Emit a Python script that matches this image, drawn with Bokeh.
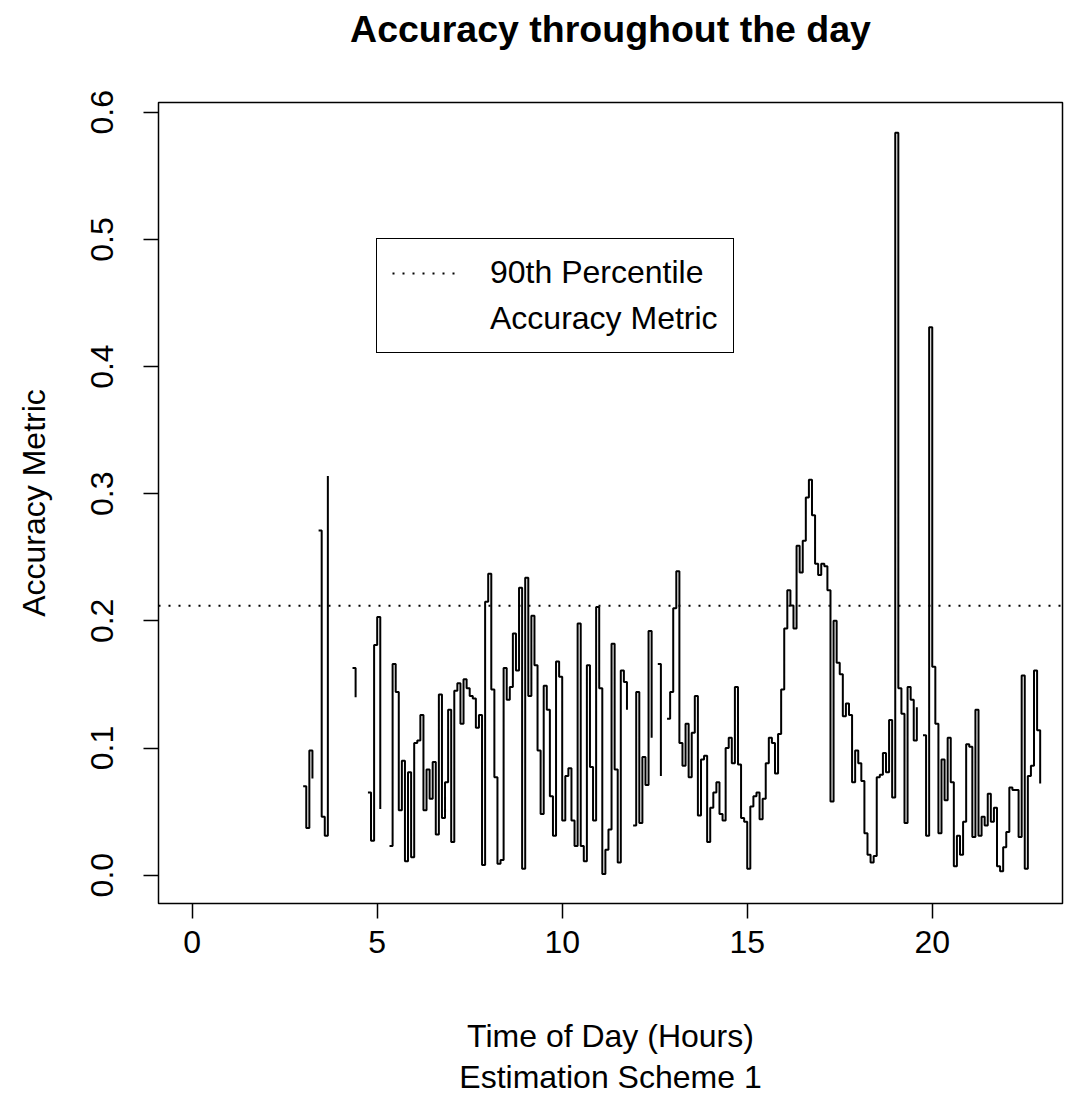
import math
from bokeh.plotting import figure
from bokeh.models import (Range1d, Legend, LegendItem, FixedTicker,
                          NumeralTickFormatter, Title)
from bokeh.embed import file_html
from bokeh.resources import INLINE

nan = float("nan")

# Accuracy metric sampled every 5 minutes from 03:00 (NaN = no estimate)
accuracy = [
    0.070, 0.037, 0.098, 0.076, nan,
    0.271, 0.046, 0.031, 0.314,
    nan, nan, nan, nan, nan, nan, nan,
    0.163, 0.140,
    nan, nan, nan,
    0.065, 0.027, 0.181, 0.203, 0.052,
    nan, nan,
    0.023, 0.166, 0.144, 0.051, 0.090, 0.011, 0.081, 0.014, 0.104, 0.106,
    0.126, 0.051, 0.083, 0.060, 0.089, 0.032, 0.142, 0.045, 0.073, 0.130,
    0.026, 0.145, 0.151, 0.119, 0.154, 0.147, 0.141, 0.139, 0.116, 0.126,
    0.008, 0.215, 0.237, 0.146, 0.077, 0.009, 0.012, 0.163, 0.138, 0.148,
    0.190, 0.161, 0.226, 0.005, 0.234, 0.141, 0.204, 0.165, 0.098, 0.048,
    0.149, 0.130, 0.062, 0.031, 0.168, 0.156, 0.043, 0.078, 0.084, 0.043,
    0.023, 0.198, 0.023, 0.011, 0.165, 0.085, 0.043, 0.211, 0.147, 0.001,
    0.020, 0.036, 0.182, 0.083, 0.010, 0.161, 0.152, 0.130,
    nan,
    0.039, 0.144, 0.041, 0.093, 0.071, 0.192, 0.108,
    nan,
    0.166, 0.078,
    nan,
    0.123, 0.144, 0.210, 0.239, 0.104, 0.086, 0.119, 0.077, 0.112, 0.141,
    0.047, 0.091, 0.094, 0.026, 0.053, 0.065, 0.073, 0.048, 0.043, 0.100,
    0.108, 0.088, 0.148, 0.087, 0.045, 0.042, 0.005, 0.054, 0.062, 0.065,
    0.044, 0.060, 0.088, 0.108, 0.104, 0.080, 0.111, 0.146, 0.194, 0.224,
    0.212, 0.194, 0.259, 0.238, 0.263, 0.297, 0.311, 0.283, 0.245, 0.236,
    0.245, 0.243, 0.224, 0.058, 0.200, 0.167, 0.158, 0.125, 0.135, 0.126,
    0.073, 0.098, 0.088, 0.074, 0.033, 0.016, 0.010, 0.015, 0.077, 0.079,
    0.096, 0.081, 0.122, 0.061, 0.584, 0.147, 0.127, 0.041, 0.148, 0.138,
    0.106, 0.132,
    nan,
    0.110, 0.031, 0.431, 0.164, 0.119, 0.033, 0.091, 0.059, 0.108, 0.073,
    0.007, 0.031, 0.016, 0.042, 0.103, 0.101, 0.030, 0.130, 0.031, 0.046,
    0.039, 0.064, 0.042, 0.053, 0.007, 0.003, 0.022, 0.034, 0.069, 0.067,
    0.067, 0.030, 0.157, 0.005, 0.078, 0.086, 0.161, 0.114, 0.072,
]
start_hour = 3.0
step_minutes = 5
hours = [start_hour + i * step_minutes / 60 for i in range(len(accuracy))]

percentile_90 = 0.2118
x_ticks = [0, 5, 10, 15, 20]
y_ticks = [0.0, 0.1, 0.2, 0.3, 0.4, 0.5, 0.6]
legend_labels = ["90th Percentile", "Accuracy Metric"]

FONT = "Liberation Sans"

x_range = Range1d(-0.91, 23.52)
y_range = Range1d(-0.0223, 0.6077)
p = figure(width=1065, height=1096, output_backend="svg", toolbar_location=None,
           x_range=x_range, y_range=y_range,
           min_border_left=158, min_border_right=3, min_border_top=102,
           min_border_bottom=193)
p.background_fill_color = "white"
p.border_fill_color = "white"
p.outline_line_color = "black"
p.outline_line_width = 1.5
p.grid.visible = False

# title (outermost) with an empty spacer panel between it and the frame
p.title.text = "Accuracy throughout the day"
p.title.align = "center"
p.title.text_font = FONT
p.title.text_font_size = "37.5px"
p.title.text_font_style = "bold"
p.title.text_color = "black"
p.title.standoff = 0
p.title.offset = 6
spacer = Title(text=" ", text_font=FONT, text_font_size="36px", standoff=10)
p.add_layout(spacer, "above")

# step line split on gaps
seg_x, seg_y = [], []
segments = []
for h, v in zip(hours, accuracy):
    if math.isnan(v):
        if seg_x:
            segments.append((seg_x, seg_y))
        seg_x, seg_y = [], []
    else:
        seg_x.append(h)
        seg_y.append(v)
if seg_x:
    segments.append((seg_x, seg_y))
for sx, sy in segments:
    p.step(sx, sy, mode="after", line_color="black", line_width=2)

# 90th percentile line across the whole plot
pct = p.line([x_range.start, x_range.end], [percentile_90, percentile_90],
             line_color="black", line_width=2, line_dash="2 8")

dummy_none = p.line([hours[0], hours[0]], [accuracy[0], accuracy[0]],
                    line_color="black", line_alpha=0)

legend = Legend(items=[LegendItem(label=legend_labels[0], renderers=[pct]),
                       LegendItem(label=legend_labels[1], renderers=[dummy_none])],
                location=(218, 550), margin=0, padding=15, spacing=9,
                glyph_width=70, glyph_height=36, label_height=36,
                label_standoff=28, label_text_font=FONT,
                label_text_font_size="32px", label_text_color="black",
                border_line_color="black", border_line_width=1.5,
                border_line_alpha=1.0,
                background_fill_color="white", background_fill_alpha=1.0)
p.add_layout(legend, "center")

# axes
for ax in (p.xaxis[0], p.yaxis[0]):
    ax.axis_line_color = None
    ax.major_tick_line_color = "black"
    ax.major_tick_line_width = 1.5
    ax.major_tick_out = 15
    ax.major_tick_in = 0
    ax.minor_tick_line_color = None
    ax.major_label_text_font = FONT
    ax.major_label_text_font_size = "32px"
    ax.major_label_text_color = "black"
    ax.axis_label_text_font = FONT
    ax.axis_label_text_font_size = "32px"
    ax.axis_label_text_font_style = "normal"
    ax.axis_label_text_color = "black"

p.xaxis.ticker = FixedTicker(ticks=x_ticks)
p.xaxis.major_label_standoff = 12
p.xaxis.axis_label = "Time of Day (Hours)"
p.xaxis.axis_label_standoff = 62

p.yaxis.ticker = FixedTicker(ticks=y_ticks)
p.yaxis.formatter = NumeralTickFormatter(format="0.0")
p.yaxis.major_label_orientation = "parallel"
p.yaxis.major_label_standoff = 30
p.yaxis.axis_label = "Accuracy Metric"
p.yaxis.axis_label_standoff = 37

sub = Title(text="Estimation Scheme 1", align="center", text_font=FONT,
            text_font_size="32px", text_font_style="normal", text_color="black",
            standoff=1, offset=6)
p.add_layout(sub, "below")

open("out.html", "w").write(file_html(p, INLINE))
